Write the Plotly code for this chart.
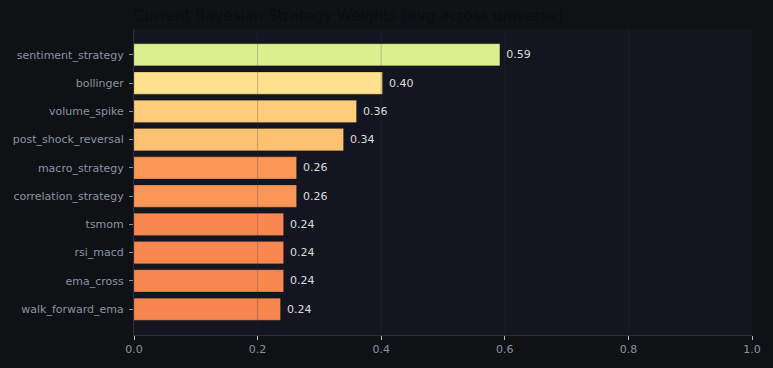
import plotly.graph_objects as go
import plotly.colors as pc

strategies = ["sentiment_strategy", "bollinger", "volume_spike", "post_shock_reversal",
              "macro_strategy", "correlation_strategy", "tsmom", "rsi_macd",
              "ema_cross", "walk_forward_ema"]
weights = [0.592, 0.402, 0.360, 0.339, 0.263, 0.263, 0.242, 0.242, 0.242, 0.237]
x_ticks = [0.0, 0.2, 0.4, 0.6, 0.8, 1.0]
title_text = "Current Bayesian Strategy Weights (avg across universe)"

FONT = "DejaVu Sans"

fig = go.Figure()
fig.add_trace(go.Bar(
    x=weights,
    y=strategies,
    orientation="h",
    marker=dict(
        color=weights,
        colorscale=pc.diverging.RdYlGn,
        cmin=0, cmax=1,
        line=dict(color="rgba(0,0,0,0.18)", width=1),
    ),
    texttemplate=" %{x:.2f}",
    textposition="outside",
    textfont=dict(color="#dcdcdc", size=11, family=FONT),
    cliponaxis=False,
    showlegend=False,
))

# gridlines drawn above the bars, at the tick positions
for t in x_ticks[1:-1]:
    fig.add_shape(type="line", xref="x", yref="paper", x0=t, x1=t, y0=0, y1=1,
                  line=dict(color="rgba(50,50,62,0.28)", width=1), layer="above")

n = len(strategies)
fig.update_layout(
    width=773, height=368,
    margin=dict(l=134, r=19, t=29, b=31),
    paper_bgcolor="#0f1115",
    plot_bgcolor="#131621",
    bargap=0.22,
    font=dict(family=FONT, size=11, color="#8d92a3"),
    title=dict(text=title_text, x=0, xref="paper", xanchor="left",
               y=1, yref="container", yanchor="top", pad=dict(t=10),
               font=dict(size=15, color="#0b0c10", family=FONT)),
)
fig.update_xaxes(
    range=[0, 1], tickvals=x_ticks, ticktext=[f"{v:.1f}" for v in x_ticks],
    showgrid=False, zeroline=False,
    showline=True, linecolor="#2b2f3e", linewidth=1,
    ticks="outside", ticklen=4, tickcolor="#b8bcc8",
    tickfont=dict(size=11, color="#8d92a3"),
)
fig.update_yaxes(
    categoryorder="array", categoryarray=strategies,
    range=[n - 1 + 0.915, -0.915],
    showgrid=False, zeroline=False,
    showline=True, linecolor="#2b2f3e", linewidth=1,
    ticks="outside", ticklen=4, tickcolor="#8d92a3",
    ticklabelstandoff=3,
    tickfont=dict(size=11, color="#8d92a3"),
)

fig.write_html("out.html")
